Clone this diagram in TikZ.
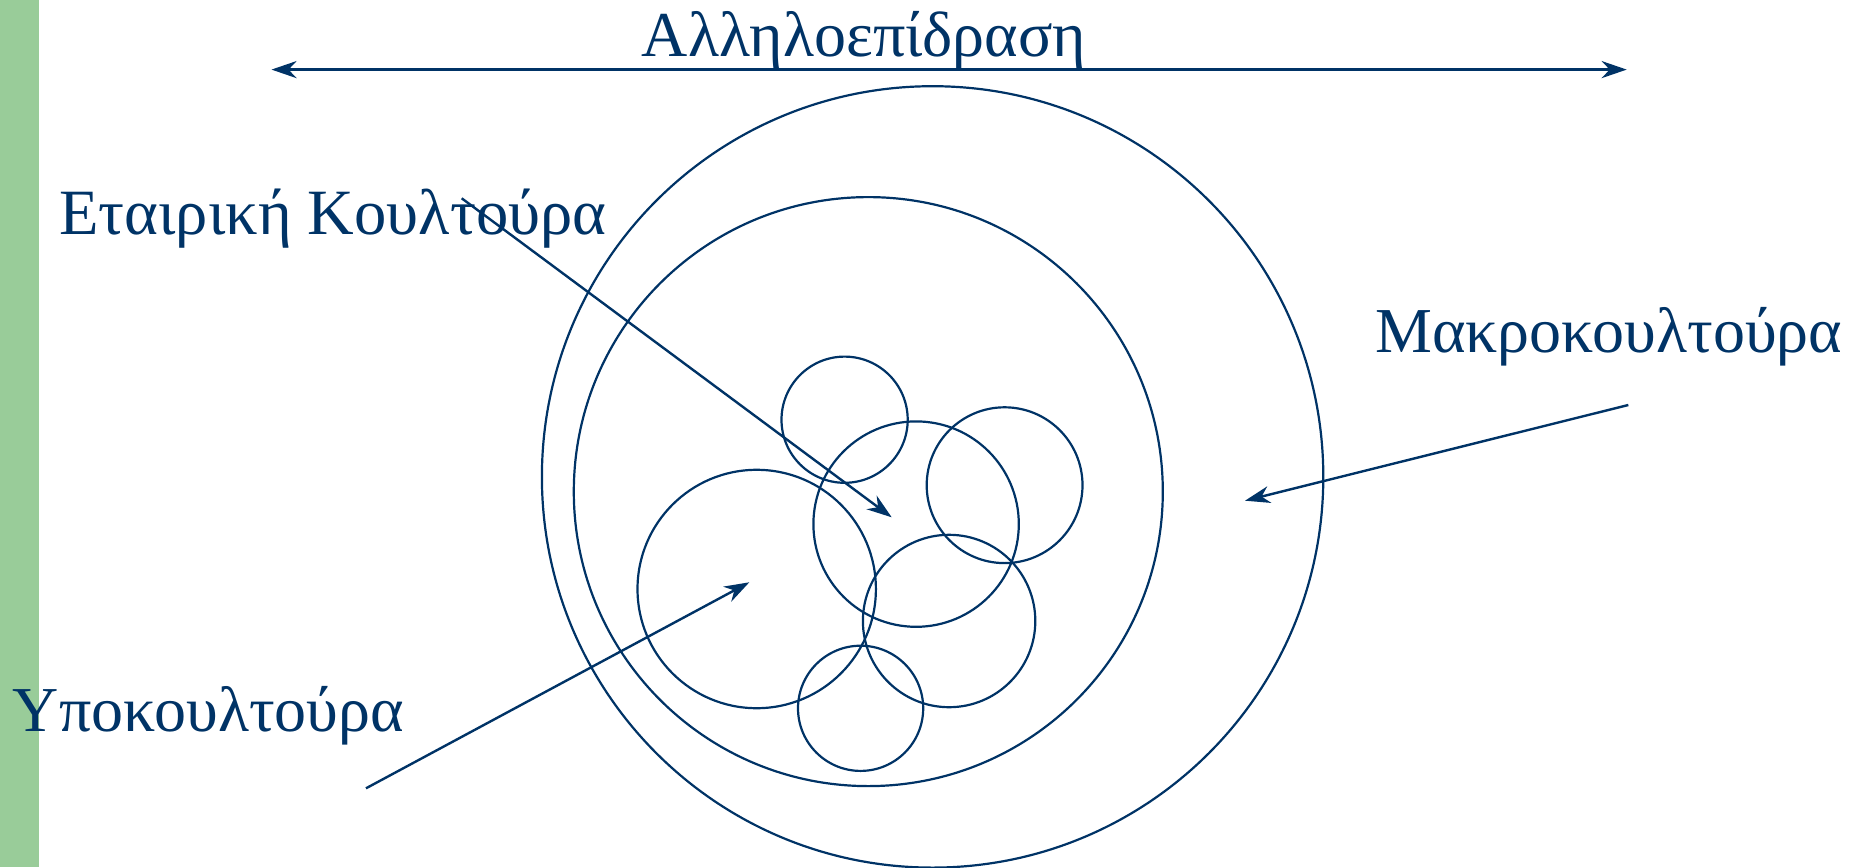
\documentclass[tikz,border=0pt]{standalone}
\usepackage{fontspec}
\setmainfont{Liberation Serif}
\usetikzlibrary{arrows.meta}
\definecolor{navy}{HTML}{003366}
\definecolor{barg}{HTML}{99CC99}
\begin{document}
\begin{tikzpicture}[x=1pt,y=-1pt,
  ring/.style={circle,draw=navy,line width=2.2pt,inner sep=0pt,minimum size=#1},
  tip/.style={Stealth[length=25pt,width=17pt,inset=8pt]},
  pointer/.style={draw=navy,line width=2.4pt,-{Stealth[length=25pt,width=17pt,inset=8pt]}},
  lbl/.style={text=navy,inner sep=0pt,anchor=base west,font=\fontsize{64}{70}\selectfont}]
\useasboundingbox (0,0) rectangle (1851,867);
\fill[barg] (0,0) rectangle (39,867);
% circles
\node[ring=781.4pt] (outer) at (932.6,476.9) {};
\node[ring=589pt] (inner) at (868.3,491.6) {};
\node[ring=126.2pt] (c1) at (844.6,419.7) {};
\node[ring=205.4pt] (c2) at (916.1,524.1) {};
\node[ring=155.8pt] (c3) at (1004.6,485.2) {};
\node[ring=238.4pt] (c4) at (756.7,589) {};
\node[ring=172.4pt] (c5) at (949.1,621) {};
\node[ring=125.2pt] (c6) at (860.6,708.3) {};
% labels
\node[lbl] (title) at (641.7,56.7) {Αλληλοεπίδραση};
\node[lbl,font=\fontsize{64.6}{70}\selectfont] (etair) at (59,234.3) {Εταιρική Κουλτούρα};
\node[lbl] (makro) at (1375,352.7) {Μακροκουλτούρα};
\node[lbl] (ypo) at (12.7,731) {Υποκουλτούρα};
% arrow coordinates
\coordinate (tl) at (271.5,69.6);
\coordinate (tr) at (1626.7,69.6);
\coordinate (es) at (461.7,198.3);
\coordinate (ee) at (891.7,517.3);
\coordinate (ys) at (366,788.3);
\coordinate (ye) at (749.3,582.3);
\coordinate (ms) at (1628.3,405);
\coordinate (me) at (1245,500.7);
\draw[navy,line width=3pt,{Stealth[length=25pt,width=17pt,inset=8pt]}-{Stealth[length=25pt,width=17pt,inset=8pt]}] (tl) -- (tr);
\draw[pointer] (es) -- (ee);
\draw[pointer] (ys) -- (ye);
\draw[pointer] (ms) -- (me);
\end{tikzpicture}
\end{document}
